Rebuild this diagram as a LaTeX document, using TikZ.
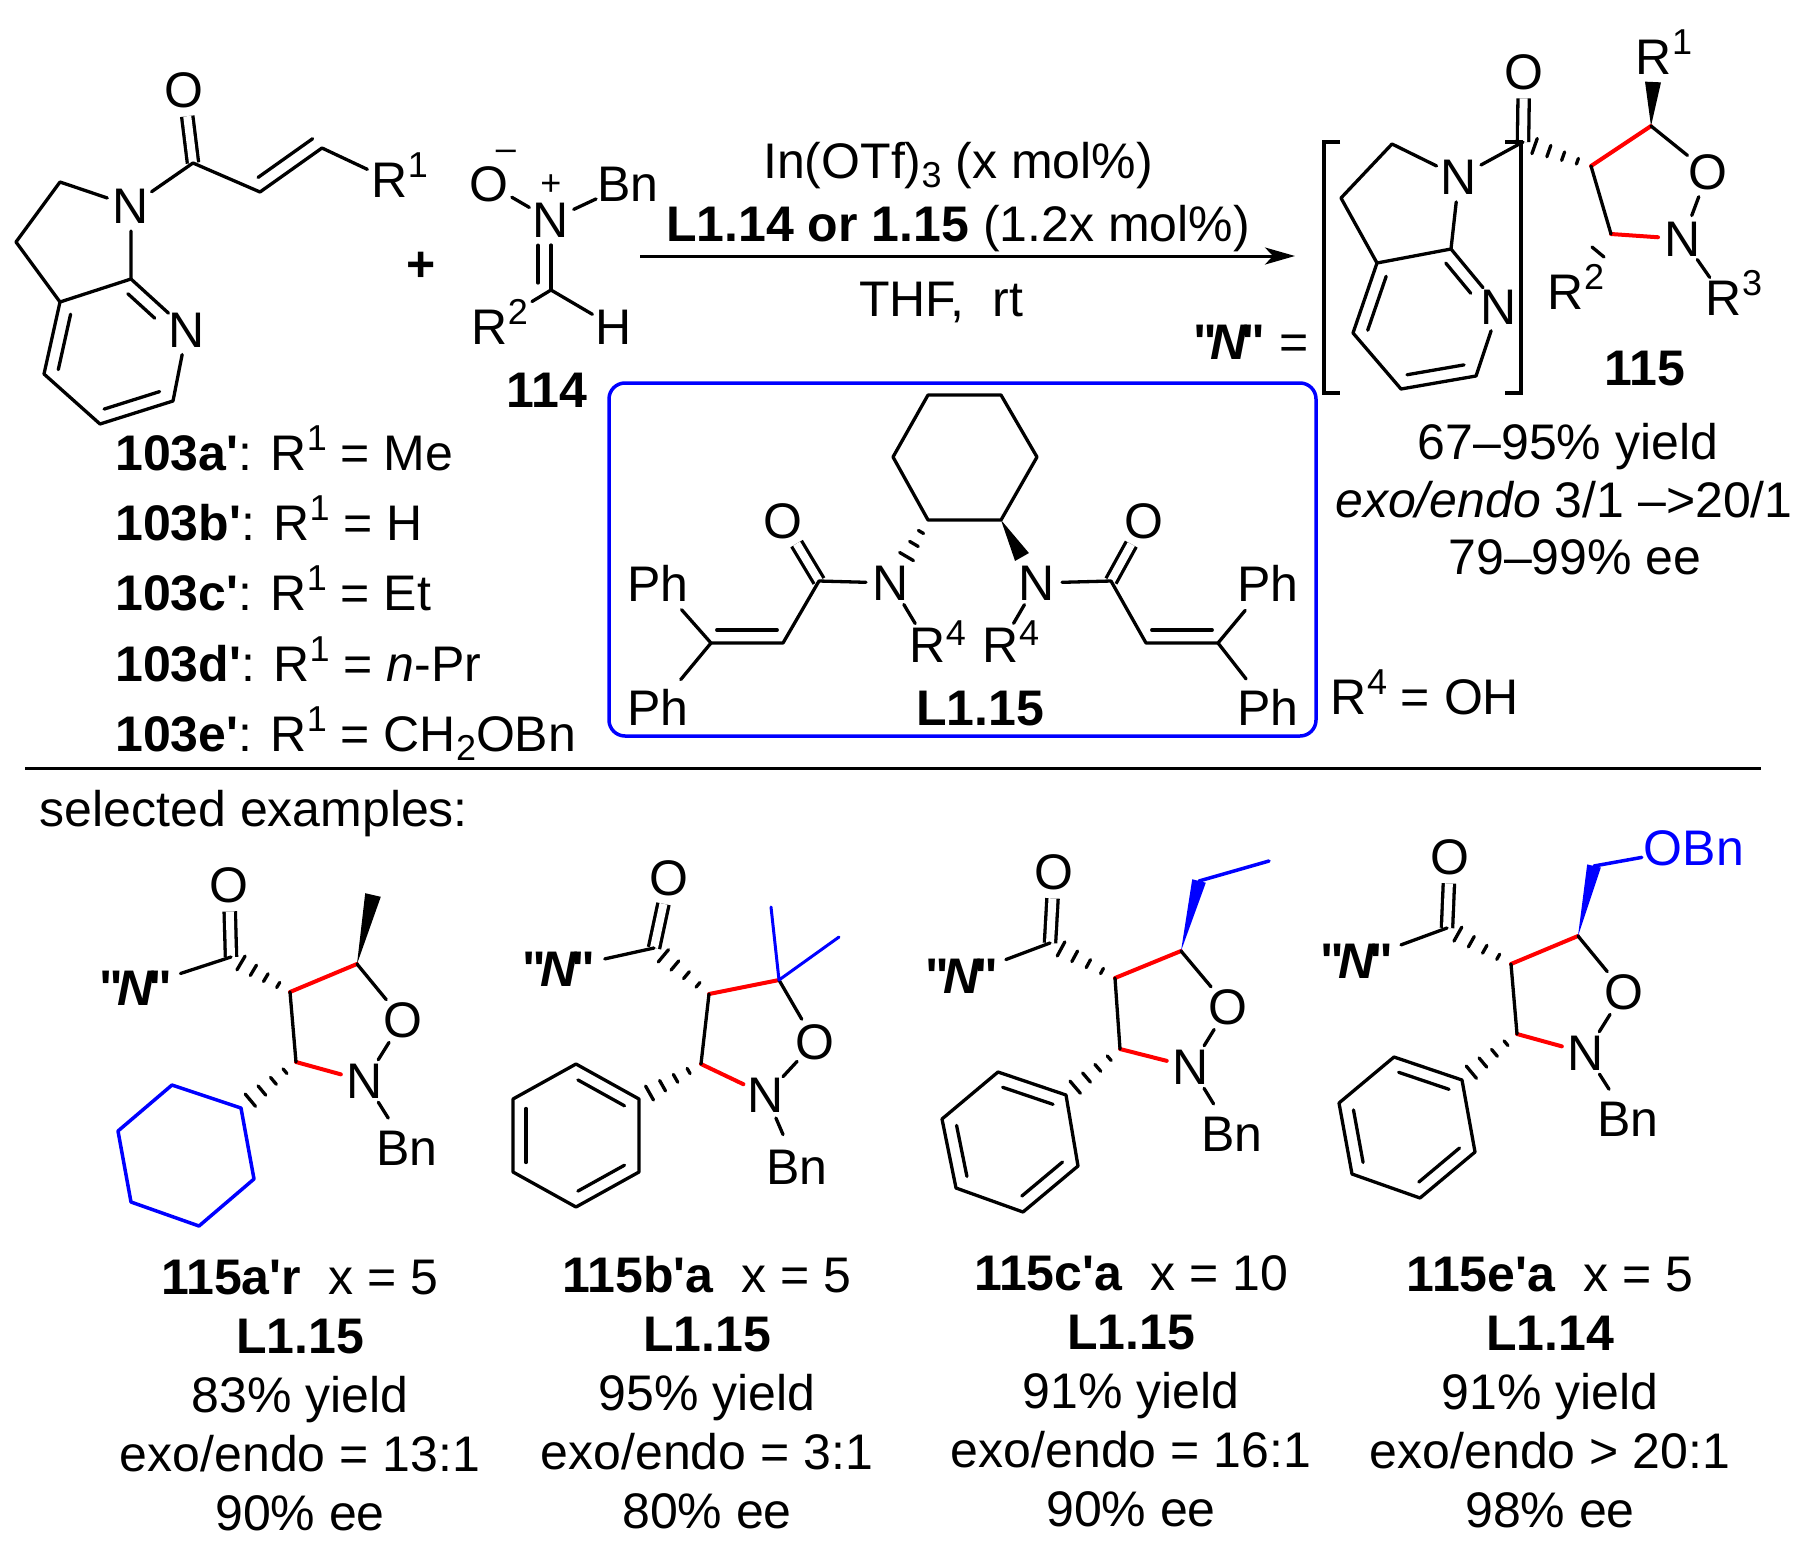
\documentclass[tikz,border=0pt]{standalone}
\usepackage{fontspec}
\setmainfont{Liberation Sans}[Ligatures=TeXOff]
\usetikzlibrary{calc, arrows.meta}
\tikzstyle{atom} = [circle, inner sep=0pt]
\tikzstyle{nameatom} = [circle, inner sep=5pt, font=\fontsize{50}{59}\selectfont\bfseries]
\tikzstyle{txt} = [inner sep=0pt, align=center]
\tikzstyle{rowtxt} = [inner sep=0pt, anchor=base west]
\tikzstyle{supnum} = [inner sep=0pt, font=\fontsize{36}{36}\selectfont]
\tikzstyle{bond} = [line width=3.3pt, line cap=round, line join=round]
\tikzstyle{dbond} = [line width=3.3pt, double, double distance=8pt]
\tikzstyle{redbond} = [line width=4pt, line cap=round, color=red]
\tikzstyle{bluebond} = [line width=3.5pt, line cap=round, line join=round, color=blue]
\tikzstyle{arrow} = [line width=3pt, -{Stealth[length=30pt, width=17pt, inset=8pt]}]
\newcommand{\upnum}[1]{\raisebox{20pt}{\fontsize{36}{36}\selectfont #1}}
\newcommand{\downnum}[1]{\raisebox{-9pt}{\fontsize{36}{36}\selectfont #1}}
\newcommand{\namen}{"\kern-6pt\textit{N}\kern-6pt"}
\newcommand{\hashbar}[4]{\draw [bond] ($(#1)!#3!(#2)!#4!90:(#2)$) -- ($(#1)!#3!(#2)!#4!-90:(#2)$);}
\newcommand{\hashbond}[2]{\hashbar{#1}{#2}{.2}{3pt}\hashbar{#1}{#2}{.41}{4.5pt}\hashbar{#1}{#2}{.62}{6pt}\hashbar{#1}{#2}{.83}{8pt}}
\newcommand{\wedgebond}[4][black]{\fill [#1] (#2) -- ($(#3)!#4!90:(#2)$) -- ($(#3)!#4!-90:(#2)$) -- cycle;}
\newcommand{\innerbond}[4]{\draw [bond] ($(#1)!#3!(#2)!13pt!90:(#2)$) -- ($(#1)!#4!(#2)!13pt!90:(#2)$);}
\newcommand{\ringdbl}[2]{\innerbond{#1}{#2}{.13}{.87}}
\begin{document}
\begin{tikzpicture}[x=1pt, y=-1pt, node distance=28pt, font=\fontsize{50}{59}\selectfont]
\useasboundingbox (0,0) rectangle (1805,1550);

\node (ao) [atom] at (184,90) {O};
\coordinate (ac) at (193,163);
\node (an) [atom] at (131,206) {N};
\coordinate (aal) at (260,192);
\coordinate (abe) at (322,148);
\node (ar) [atom] at (390,180) {R};
\node (arup) [supnum, right of=ar, yshift=15pt] {1};
\coordinate (a2) at (60,182);
\coordinate (a3) at (16,242);
\coordinate (a3a) at (60,302);
\coordinate (a7a) at (131,279);
\node (apy) [atom] at (187,330) {N};
\coordinate (a6) at (173,401);
\coordinate (a5) at (100,424);
\coordinate (a4) at (44,374);

\draw [dbond] (ao) -- (ac);
\draw [bond] (an) -- (ac) -- (aal) -- (abe) -- (ar);
\draw [bond] (an) -- (a2) -- (a3) -- (a3a) -- (a7a) -- (an);
\draw [bond] (a7a) -- (apy) -- (a6) -- (a5) -- (a4) -- (a3a);
\innerbond{aal}{abe}{.09}{.97}
\innerbond{apy}{a7a}{.42}{.9}
\innerbond{a3a}{a4}{.13}{.9}
\innerbond{a5}{a6}{.11}{.87}

\node (plus) [txt] at (421,267) {\textbf{+}};

\node (no) [atom] at (489,184) {O};
\node (nminus) [supnum] at (506,155) {–};
\node (nn) [atom] at (551,220) {N};
\node (nplus) [supnum] at (551,185) {+};
\node (nbn) [atom] at (628,184) {Bn};
\coordinate (nc) at (551,290);
\node (nr) [atom] at (490,327) {R};
\node (nrup) [supnum, right of=nr, yshift=15pt] {2};
\node (nh) [atom] at (614,327) {H};
\node (n114) [txt] at (547,390) {\textbf{114}};

\draw [bond] (no) -- (nn) -- (nbn);
\draw [bond] (nn) -- (nc);
\draw [bond, shorten >=24pt] (nc) -- (nr);
\draw [bond] (nc) -- (nh);
\innerbond{nc}{nn}{.1}{.64}

\node (l103a) [rowtxt] at (115,470) {\textbf{103a'}: R\upnum{1} = Me};
\node (l103b) [rowtxt] at (115,540) {\textbf{103b'}: R\upnum{1} = H};
\node (l103c) [rowtxt] at (115,610) {\textbf{103c'}: R\upnum{1} = Et};
\node (l103d) [rowtxt] at (115,681) {\textbf{103d'}: R\upnum{1} = \textit{n}-Pr};
\node (l103e) [rowtxt] at (115,751) {\textbf{103e'}: R\upnum{1} = CH\downnum{2}OBn};

\node (cond1) [txt] at (958,166) {In(OTf)\downnum{3} (x mol\%)};
\node (cond2) [txt] at (958,229) {\textbf{L1.14 or 1.15} (1.2x mol\%)};
\node (cond3) [txt] at (941,302) {THF,\ \ rt};
\coordinate (arrowl) at (640,256);
\coordinate (arrowr) at (1295,256);
\draw [arrow] (arrowl) -- (arrowr);

\node (neq) [txt] at (1251,342) {\textbf{\namen} =};

\node (bn) [atom] at (1459,177) {N};
\coordinate (bc) at (1523,142);
\node (bo) [atom] at (1524,72) {O};
\coordinate (b2) at (1392,144);
\coordinate (b3) at (1341,198);
\coordinate (b3a) at (1377,263);
\coordinate (b7a) at (1451,249);
\node (bpy) [atom] at (1499,307) {N};
\coordinate (b6) at (1476,376);
\coordinate (b5) at (1401,389);
\coordinate (b4) at (1353,333);
\coordinate (bi4) at (1591,166);
\coordinate (bi5) at (1651,126);
\node (bio) [atom] at (1708,172) {O};
\node (bin) [atom] at (1683,239) {N};
\coordinate (bi3) at (1611,234);
\node (br1) [atom] at (1654,57) {R};
\node (br1up) [supnum, right of=br1, yshift=15pt] {1};
\node (br2) [atom] at (1566,292) {R};
\node (br2up) [supnum, right of=br2, yshift=15pt] {2};
\node (br3) [atom] at (1724,298) {R};
\node (br3up) [supnum, right of=br3, yshift=15pt] {3};
\coordinate (bwedge) at (1653,82);
\coordinate (btick1) at (1592,247);
\coordinate (btick2) at (1604,257);

\draw [dbond] (bo) -- (bc);
\draw [bond] (bn) -- (bc);
\draw [bond] (bn) -- (b2) -- (b3) -- (b3a) -- (b7a) -- (bn);
\draw [bond] (b7a) -- (bpy) -- (b6) -- (b5) -- (b4) -- (b3a);
\innerbond{b3a}{b4}{.13}{.9}
\innerbond{b5}{b6}{.11}{.87}
\innerbond{bpy}{b7a}{.38}{.9}
\hashbond{bi4}{bc}
\draw [redbond] (bi4) -- (bi5);
\draw [redbond] (bi3) -- (bin);
\draw [bond] (bi5) -- (bio) -- (bin) -- (br3);
\draw [bond] (bi4) -- (bi3);
\draw [bond] (btick1) -- (btick2);
\wedgebond{bi5}{bwedge}{8pt}

\draw [line width=3.5pt] (1340,142) -- (1324,142) -- (1324,393) -- (1340,393);
\draw [line width=3.5pt] (1505,142) -- (1521,142) -- (1521,393) -- (1505,393);

\node (b115) [txt] at (1645,369) {\textbf{115}};
\node (byield) [txt] at (1568,447) {67–95\% yield};
\node (bexo) [txt] at (1564,500) {\textit{exo/endo} 3/1 –>20/1};
\node (bee) [txt] at (1575,557) {79–99\% ee};

\node (ligbox) [draw=blue, line width=3.5pt, rounded corners=16pt, minimum width=707pt, minimum height=353pt] at (962.5,559.5) {};

\coordinate (lc1) at (928,395);
\coordinate (lc2) at (1001,395);
\coordinate (lc3) at (1037,457);
\coordinate (lc4) at (1001,520);
\coordinate (lc5) at (928,520);
\coordinate (lc6) at (893,457);
\node (lnl) [atom] at (891,583) {N};
\node (lnr) [atom] at (1037,583) {N};
\coordinate (lcl) at (819,581);
\coordinate (lcr) at (1111,581);
\node (lol) [atom] at (783,521) {O};
\node (lor) [atom] at (1144,521) {O};
\coordinate (lal) at (783,643);
\coordinate (lbl) at (711,643);
\coordinate (lar) at (1146,643);
\coordinate (lbr) at (1218,643);
\node (lph1) [atom] at (658,583) {Ph};
\node (lph2) [atom] at (658,707) {Ph};
\node (lph3) [atom] at (1268,583) {Ph};
\node (lph4) [atom] at (1268,707) {Ph};
\node (lr1) [atom] at (928,645) {R};
\node (lr1up) [supnum, right of=lr1, yshift=12pt] {4};
\node (lr2) [atom] at (1001,645) {R};
\node (lr2up) [supnum, right of=lr2, yshift=12pt] {4};
\node (lname) [txt] at (980,709) {\textbf{L1.15}};
\coordinate (lwedge) at (1022,557);

\draw [bond] (lc1) -- (lc2) -- (lc3) -- (lc4) -- (lc5) -- (lc6) -- cycle;
\hashbar{lc5}{lnl}{.19}{3pt}
\hashbar{lc5}{lnl}{.38}{5pt}
\hashbar{lc5}{lnl}{.58}{8pt}
\wedgebond{lc4}{lwedge}{8pt}
\draw [dbond] (lol) -- (lcl);
\draw [dbond] (lor) -- (lcr);
\draw [bond] (lnl) -- (lcl) -- (lal) -- (lbl) -- (lph1);
\draw [bond] (lbl) -- (lph2);
\draw [bond] (lnr) -- (lcr) -- (lar) -- (lbr) -- (lph3);
\draw [bond] (lbr) -- (lph4);
\draw [bond] (lnl) -- (lr1);
\draw [bond] (lnr) -- (lr2);
\innerbond{lbl}{lal}{.08}{.92}
\innerbond{lar}{lbr}{.08}{.92}

\node (r4eq) [txt] at (1425,692) {R\upnum{4} = OH};

\coordinate (rulel) at (25,768);
\coordinate (ruler) at (1761,768);
\draw [line width=3pt] (rulel) -- (ruler);
\node (selected) [txt] at (254,814) {selected examples:};

\node (so) [atom] at (229,885) {O};
\coordinate (sc) at (231,957);
\node (snm) [nameatom] at (136,988) {\namen};
\coordinate (s4) at (290,992);
\coordinate (s5) at (357,964);
\node (sio) [atom] at (403,1020) {O};
\node (sin) [atom] at (365,1081) {N};
\coordinate (s3) at (296,1062);
\node (sbn) [atom] at (407,1148) {Bn};
\coordinate (swedge) at (373,895);
\coordinate (sy1) at (241,1108);
\coordinate (sy2) at (172,1085);
\coordinate (sy3) at (118,1131);
\coordinate (sy4) at (131,1202);
\coordinate (sy5) at (199,1226);
\coordinate (sy6) at (254,1179);

\draw [dbond] (so) -- (sc);
\draw [bond] (snm) -- (sc);
\hashbond{s4}{sc}
\draw [redbond] (s4) -- (s5);
\draw [redbond] (s3) -- (sin);
\draw [bond] (s5) -- (sio) -- (sin) -- (sbn);
\draw [bond] (s4) -- (s3);
\wedgebond{s5}{swedge}{8pt}
\hashbond{s3}{sy1}
\draw [bluebond] (sy1) -- (sy2) -- (sy3) -- (sy4) -- (sy5) -- (sy6) -- cycle;

\node (scap) [txt] at (300,1396) {\textbf{115a'r}\ \ x = 5\\\textbf{L1.15}\\83\% yield\\exo/endo = 13:1\\90\% ee};

\node (to) [atom] at (669,878) {O};
\coordinate (tc) at (654,948);
\node (tnm) [nameatom] at (559,969) {\namen};
\coordinate (t4) at (709,994);
\coordinate (t5) at (779,980);
\node (tio) [atom] at (815,1042) {O};
\node (tin) [atom] at (766,1095) {N};
\coordinate (t3) at (701,1064);
\node (tbn) [atom] at (797,1167) {Bn};
\coordinate (tme1) at (771,907);
\coordinate (tme2) at (839,937);
\coordinate (tp1) at (639,1099);
\coordinate (tp2) at (576,1064);
\coordinate (tp3) at (513,1099);
\coordinate (tp4) at (513,1172);
\coordinate (tp5) at (576,1207);
\coordinate (tp6) at (639,1172);

\draw [dbond] (to) -- (tc);
\draw [bond] (tnm) -- (tc);
\hashbond{t4}{tc}
\draw [redbond] (t4) -- (t5);
\draw [redbond] (t3) -- (tin);
\draw [bond] (t5) -- (tio) -- (tin) -- (tbn);
\draw [bond] (t4) -- (t3);
\draw [bluebond, line width=3pt] (tme1) -- (t5) -- (tme2);
\hashbond{t3}{tp1}
\draw [bond] (tp1) -- (tp2) -- (tp3) -- (tp4) -- (tp5) -- (tp6) -- cycle;
\ringdbl{tp1}{tp2}
\ringdbl{tp3}{tp4}
\ringdbl{tp5}{tp6}

\node (tcap) [txt] at (707,1393) {\textbf{115b'a}\ \ x = 5\\\textbf{L1.15}\\95\% yield\\exo/endo = 3:1\\80\% ee};

\node (uo) [atom] at (1054,872) {O};
\coordinate (uc) at (1050,943);
\node (unm) [nameatom] at (962,976) {\namen};
\coordinate (u4) at (1115,978);
\coordinate (u5) at (1181,951);
\node (uio) [atom] at (1228,1007) {O};
\node (uin) [atom] at (1191,1067) {N};
\coordinate (u3) at (1120,1049);
\node (ubn) [atom] at (1232,1134) {Bn};
\coordinate (uet1) at (1199,881);
\coordinate (uet2) at (1269,861);
\coordinate (up1) at (1066,1095);
\coordinate (up2) at (998,1072);
\coordinate (up3) at (942,1119);
\coordinate (up4) at (956,1188);
\coordinate (up5) at (1023,1212);
\coordinate (up6) at (1078,1166);

\draw [dbond] (uo) -- (uc);
\draw [bond] (unm) -- (uc);
\hashbond{u4}{uc}
\draw [redbond] (u4) -- (u5);
\draw [redbond] (u3) -- (uin);
\draw [bond] (u5) -- (uio) -- (uin) -- (ubn);
\draw [bond] (u4) -- (u3);
\wedgebond[blue]{u5}{uet1}{7pt}
\draw [bluebond] (uet1) -- (uet2);
\hashbond{u3}{up1}
\draw [bond] (up1) -- (up2) -- (up3) -- (up4) -- (up5) -- (up6) -- cycle;
\ringdbl{up1}{up2}
\ringdbl{up3}{up4}
\ringdbl{up5}{up6}

\node (ucap) [txt] at (1131,1391) {\textbf{115c'a}\ \ x = 10\\\textbf{L1.15}\\91\% yield\\exo/endo = 16:1\\90\% ee};

\node (vo) [atom] at (1450,857) {O};
\coordinate (vc) at (1447,928);
\node (vnm) [nameatom] at (1357,961) {\namen};
\coordinate (v4) at (1511,964);
\coordinate (v5) at (1578,936);
\node (vio) [atom] at (1624,992) {O};
\node (vin) [atom] at (1586,1053) {N};
\coordinate (v3) at (1517,1034);
\node (vbn) [atom] at (1628,1119) {Bn};
\coordinate (vch) at (1594,866);
\node (vobn) [txt, text=blue, inner sep=2pt] at (1694,848) {OBn};
\coordinate (vp1) at (1462,1080);
\coordinate (vp2) at (1394,1057);
\coordinate (vp3) at (1339,1103);
\coordinate (vp4) at (1352,1174);
\coordinate (vp5) at (1420,1198);
\coordinate (vp6) at (1475,1152);

\draw [dbond] (vo) -- (vc);
\draw [bond] (vnm) -- (vc);
\hashbond{v4}{vc}
\draw [redbond] (v4) -- (v5);
\draw [redbond] (v3) -- (vin);
\draw [bond] (v5) -- (vio) -- (vin) -- (vbn);
\draw [bond] (v4) -- (v3);
\wedgebond[blue]{v5}{vch}{7pt}
\draw [bluebond] (vch) -- (vobn);
\hashbond{v3}{vp1}
\draw [bond] (vp1) -- (vp2) -- (vp3) -- (vp4) -- (vp5) -- (vp6) -- cycle;
\ringdbl{vp1}{vp2}
\ringdbl{vp3}{vp4}
\ringdbl{vp5}{vp6}

\node (vcap) [txt] at (1550,1393) {\textbf{115e'a}\ \ x = 5\\\textbf{L1.14}\\91\% yield\\exo/endo > 20:1\\98\% ee};

\end{tikzpicture}
\end{document}
